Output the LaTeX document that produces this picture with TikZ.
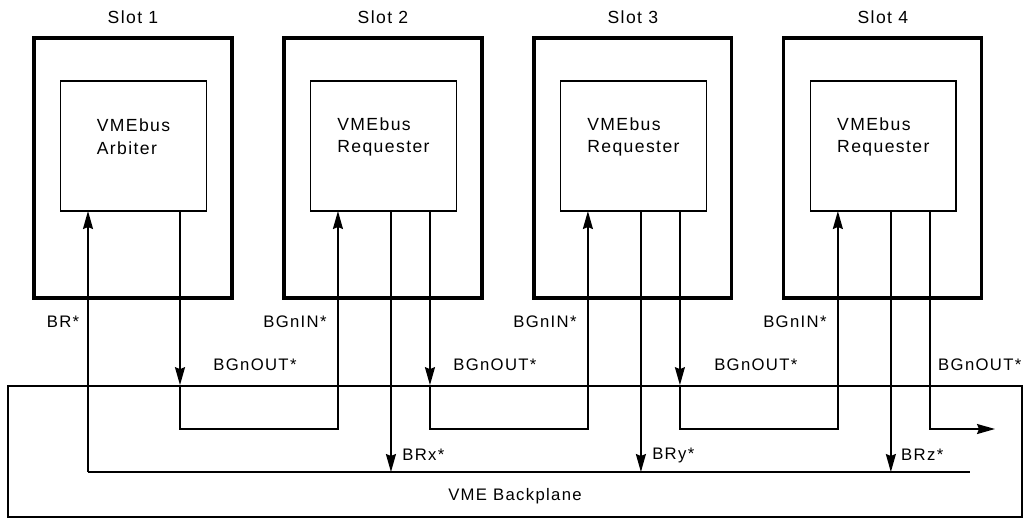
\documentclass[tikz,border=0pt]{standalone}
\usepackage{fontspec}
\setmainfont[LetterSpace=8]{Liberation Sans}
\usetikzlibrary{arrows.meta}
\tikzset{
  slotbox/.style={draw, line width=1.8pt, minimum width=3.96cm, minimum height=5.2cm, inner sep=0pt},
  unitbox/.style={draw, line width=1pt, minimum width=2.92cm, minimum height=2.6cm, inner sep=0pt},
  unittext/.style={align=left, font=\fontsize{10}{13}\selectfont},
  sigtext/.style={font=\fontsize{9.5}{11}\selectfont, inner sep=0pt},
  wire/.style={line width=1pt},
  sig/.style={wire, -{Stealth[length=0.36cm, width=0.2cm, inset=0.04cm]}}
}

\begin{document}
\begin{tikzpicture}[x=0.02cm, y=-0.02cm]
  \useasboundingbox (0, 0) rectangle (1033, 518);

  % backplane
  \node[draw, line width=1pt, minimum width=20.28cm, minimum height=2.62cm, inner sep=0pt] (bp) at (515, 451.5) {};
  \node[sigtext] (bplbl) at (515, 496) {VME Backplane};
  \coordinate (chain) at (0, 429);
  \coordinate (brL) at (88, 472);
  \coordinate (brR) at (970, 472);
  \coordinate (endD) at (995, 429);

  \begin{scope}
    \node[unittext] (slotlblA) at (133, 17) {Slot 1};
    \node[slotbox] (slotA) at (133, 168) {};
    \node[unitbox] (unitA) at (133.5, 146) {};
    \node[unittext] (txtA) at (133.5, 137) {VMEbus\\Arbiter};
    \coordinate (brinA) at (88, 211);
    \coordinate (goutA) at (180, 211);
    \node[sigtext] (brlblA) at (63, 322) {BR*};
    \node[sigtext, anchor=west] (goutlblA) at (213, 365) {BGnOUT*};
  \end{scope}
  \begin{scope}[xshift=5cm]
    \node[unittext] (slotlblB) at (133, 17) {Slot 2};
    \node[slotbox] (slotB) at (133, 168) {};
    \node[unitbox] (unitB) at (133.5, 146) {};
    \node[unittext] (txtB) at (133.5, 137) {VMEbus\\Requester};
    \coordinate (ginB) at (88, 211);
    \coordinate (reqB) at (141, 211);
    \coordinate (goutB) at (180, 211);
    \node[sigtext, anchor=east] (ginlblB) at (77, 322) {BGnIN*};
    \node[sigtext, anchor=west] (goutlblB) at (203, 365) {BGnOUT*};
    \node[sigtext, anchor=west] (reqlblB) at (152, 455) {BRx*};
  \end{scope}
  \begin{scope}[xshift=10cm]
    \node[unittext] (slotlblC) at (133, 17) {Slot 3};
    \node[slotbox] (slotC) at (133, 168) {};
    \node[unitbox] (unitC) at (133.5, 146) {};
    \node[unittext] (txtC) at (133.5, 137) {VMEbus\\Requester};
    \coordinate (ginC) at (88, 211);
    \coordinate (reqC) at (141, 211);
    \coordinate (goutC) at (180, 211);
    \node[sigtext, anchor=east] (ginlblC) at (77, 322) {BGnIN*};
    \node[sigtext, anchor=west] (goutlblC) at (214, 365) {BGnOUT*};
    \node[sigtext, anchor=west] (reqlblC) at (152, 455) {BRy*};
  \end{scope}
  \begin{scope}[xshift=15cm]
    \node[unittext] (slotlblD) at (133, 17) {Slot 4};
    \node[slotbox] (slotD) at (133, 168) {};
    \node[unitbox] (unitD) at (133.5, 146) {};
    \node[unittext] (txtD) at (133.5, 137) {VMEbus\\Requester};
    \coordinate (ginD) at (88, 211);
    \coordinate (reqD) at (141, 211);
    \coordinate (goutD) at (180, 211);
    \node[sigtext, anchor=east] (ginlblD) at (77, 322) {BGnIN*};
    \node[sigtext, anchor=west] (goutlblD) at (188, 365) {BGnOUT*};
    \node[sigtext, anchor=west] (reqlblD) at (151, 455) {BRz*};
  \end{scope}

  % bus request line
  \draw[wire] (brL) -- (brR);
  \draw[sig] (brL) -- (brinA);
  \draw[sig] (reqB) -- (reqB |- brL);
  \draw[sig] (reqC) -- (reqC |- brL);
  \draw[sig] (reqD) -- (reqD |- brL);

  % grant daisy chain
  \draw[sig] (goutA) -- (goutA |- bp.north);
  \draw[sig] (goutA |- bp.north) -- (goutA |- chain) -| (ginB);
  \draw[sig] (goutB) -- (goutB |- bp.north);
  \draw[sig] (goutB |- bp.north) -- (goutB |- chain) -| (ginC);
  \draw[sig] (goutC) -- (goutC |- bp.north);
  \draw[sig] (goutC |- bp.north) -- (goutC |- chain) -| (ginD);
  \draw[sig] (goutD) |- (endD);
\end{tikzpicture}
\end{document}
